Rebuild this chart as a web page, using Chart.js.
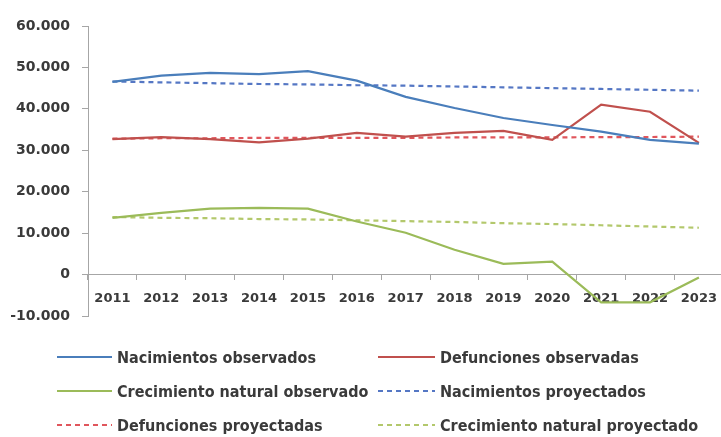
<!DOCTYPE html>
<html>
<head>
<meta charset="utf-8">
<script src="https://cdn.jsdelivr.net/npm/chart.js@4"></script>
<style>
    html, body { margin: 0; padding: 0; background: #fff; overflow: hidden; }
    #wrap { position: relative; width: 721px; height: 437px; overflow: hidden; }
    #chart { position: absolute; left: 0; top: 0; }
    .legend-item { position: absolute; display: flex; align-items: center; height: 20px;
        font-family: "DejaVu Sans Condensed", "DejaVu Sans", sans-serif; font-weight: bold;
        font-size: 16px; color: #3a3a3a; white-space: nowrap; }
    .legend-item svg { margin-right: 5px; }
</style>
</head>
<body>
<div id="wrap">
    <canvas id="chart" width="728" height="437"></canvas>
    <div id="legend"></div>
</div>
<script>
const years = ['2011', '2012', '2013', '2014', '2015', '2016', '2017', '2018', '2019', '2020', '2021', '2022', '2023'];

const nacimientosObs = [46500, 48000, 48700, 48400, 49100, 46800, 42900, 40200, 37800, 36100, 34500, 32500, 31600];
const defuncionesObs = [32700, 33200, 32700, 31900, 32800, 34200, 33300, 34200, 34700, 32500, 41000, 39300, 31800];
const crecimientoObs = [13700, 14900, 15900, 16100, 15900, 12800, 10100, 6000, 2600, 3100, -6700, -6700, -700];
const nacimientosProy = [46600, 46400, 46200, 46000, 45900, 45700, 45600, 45400, 45200, 45000, 44800, 44600, 44400];
const defuncionesProy = [32800, 32900, 32900, 33000, 33000, 33000, 33000, 33100, 33100, 33100, 33200, 33200, 33300];
const crecimientoProy = [13900, 13700, 13600, 13400, 13300, 13100, 12900, 12700, 12400, 12200, 11900, 11600, 11300];

const yTicks = [-10000, 0, 10000, 20000, 30000, 40000, 50000, 60000];

const seriesInfo = [
    { label: 'Nacimientos observados', data: nacimientosObs, color: '#4a7ebb', dash: [] },
    { label: 'Defunciones observadas', data: defuncionesObs, color: '#c0504d', dash: [] },
    { label: 'Crecimiento natural observado', data: crecimientoObs, color: '#9bbb59', dash: [] },
    { label: 'Nacimientos proyectados', data: nacimientosProy, color: '#5577c4', dash: [5, 4] },
    { label: 'Defunciones proyectadas', data: defuncionesProy, color: '#e0565c', dash: [5, 4] },
    { label: 'Crecimiento natural proyectado', data: crecimientoProy, color: '#b3c86c', dash: [5, 4] }
];

const axisGray = '#a6a6a6';

const ctx = document.getElementById('chart').getContext('2d');
new Chart(ctx, {
    type: 'line',
    data: {
        labels: years,
        datasets: seriesInfo.map(s => ({
            label: s.label,
            data: s.data,
            borderColor: s.color,
            backgroundColor: s.color,
            borderDash: s.dash,
            borderWidth: 2.2,
            pointRadius: 0,
            tension: 0,
            fill: false
        }))
    },
    options: {
        responsive: false,
        animation: false,
        layout: { padding: { top: 26, bottom: 121, left: 0, right: 0 } },
        plugins: {
            legend: { display: false },
            tooltip: { enabled: false }
        },
        scales: {
            x: {
                position: { y: 0 },
                offset: true,
                grid: { display: true, drawOnChartArea: false, drawTicks: true, tickLength: 5, color: axisGray, offset: true },
                border: { display: true, color: axisGray, width: 1 },
                ticks: { font: { family: 'DejaVu Sans', size: 13, weight: 'bold' }, color: '#3a3a3a', padding: 11, maxRotation: 0, autoSkip: false }
            },
            y: {
                min: -10000,
                max: 60000,
                afterBuildTicks: scale => { scale.ticks = yTicks.map(v => ({ value: v })); },
                afterFit: scale => { scale.width = 88; },
                grid: { display: true, drawOnChartArea: false, drawTicks: true, tickLength: 6, color: axisGray },
                border: { display: true, color: axisGray, width: 1 },
                ticks: {
                    font: { family: 'DejaVu Sans', size: 14, weight: 'bold' },
                    color: '#3a3a3a',
                    padding: 12,
                    callback: v => v.toLocaleString('de-DE')
                }
            }
        }
    }
});

// legend in two columns, like the original
const legendPos = [
    { x: 57, y: 357, w: 55 }, { x: 378, y: 357, w: 57 },
    { x: 57, y: 391, w: 55 }, { x: 378, y: 391, w: 57 },
    { x: 57, y: 425, w: 55 }, { x: 378, y: 425, w: 57 }
];
const legendBox = document.getElementById('legend');
seriesInfo.forEach((s, i) => {
    const p = legendPos[i];
    const item = document.createElement('div');
    item.className = 'legend-item';
    item.style.left = p.x + 'px';
    item.style.top = (p.y - 10) + 'px';
    const dash = s.dash.length ? `stroke-dasharray="${s.dash.join(' ')}"` : '';
    item.innerHTML = `<svg width="${p.w}" height="6"><line x1="0" y1="3" x2="${p.w}" y2="3" stroke="${s.color}" stroke-width="2" ${dash}/></svg><span>${s.label}</span>`;
    legendBox.appendChild(item);
});
</script>
</body>
</html>
